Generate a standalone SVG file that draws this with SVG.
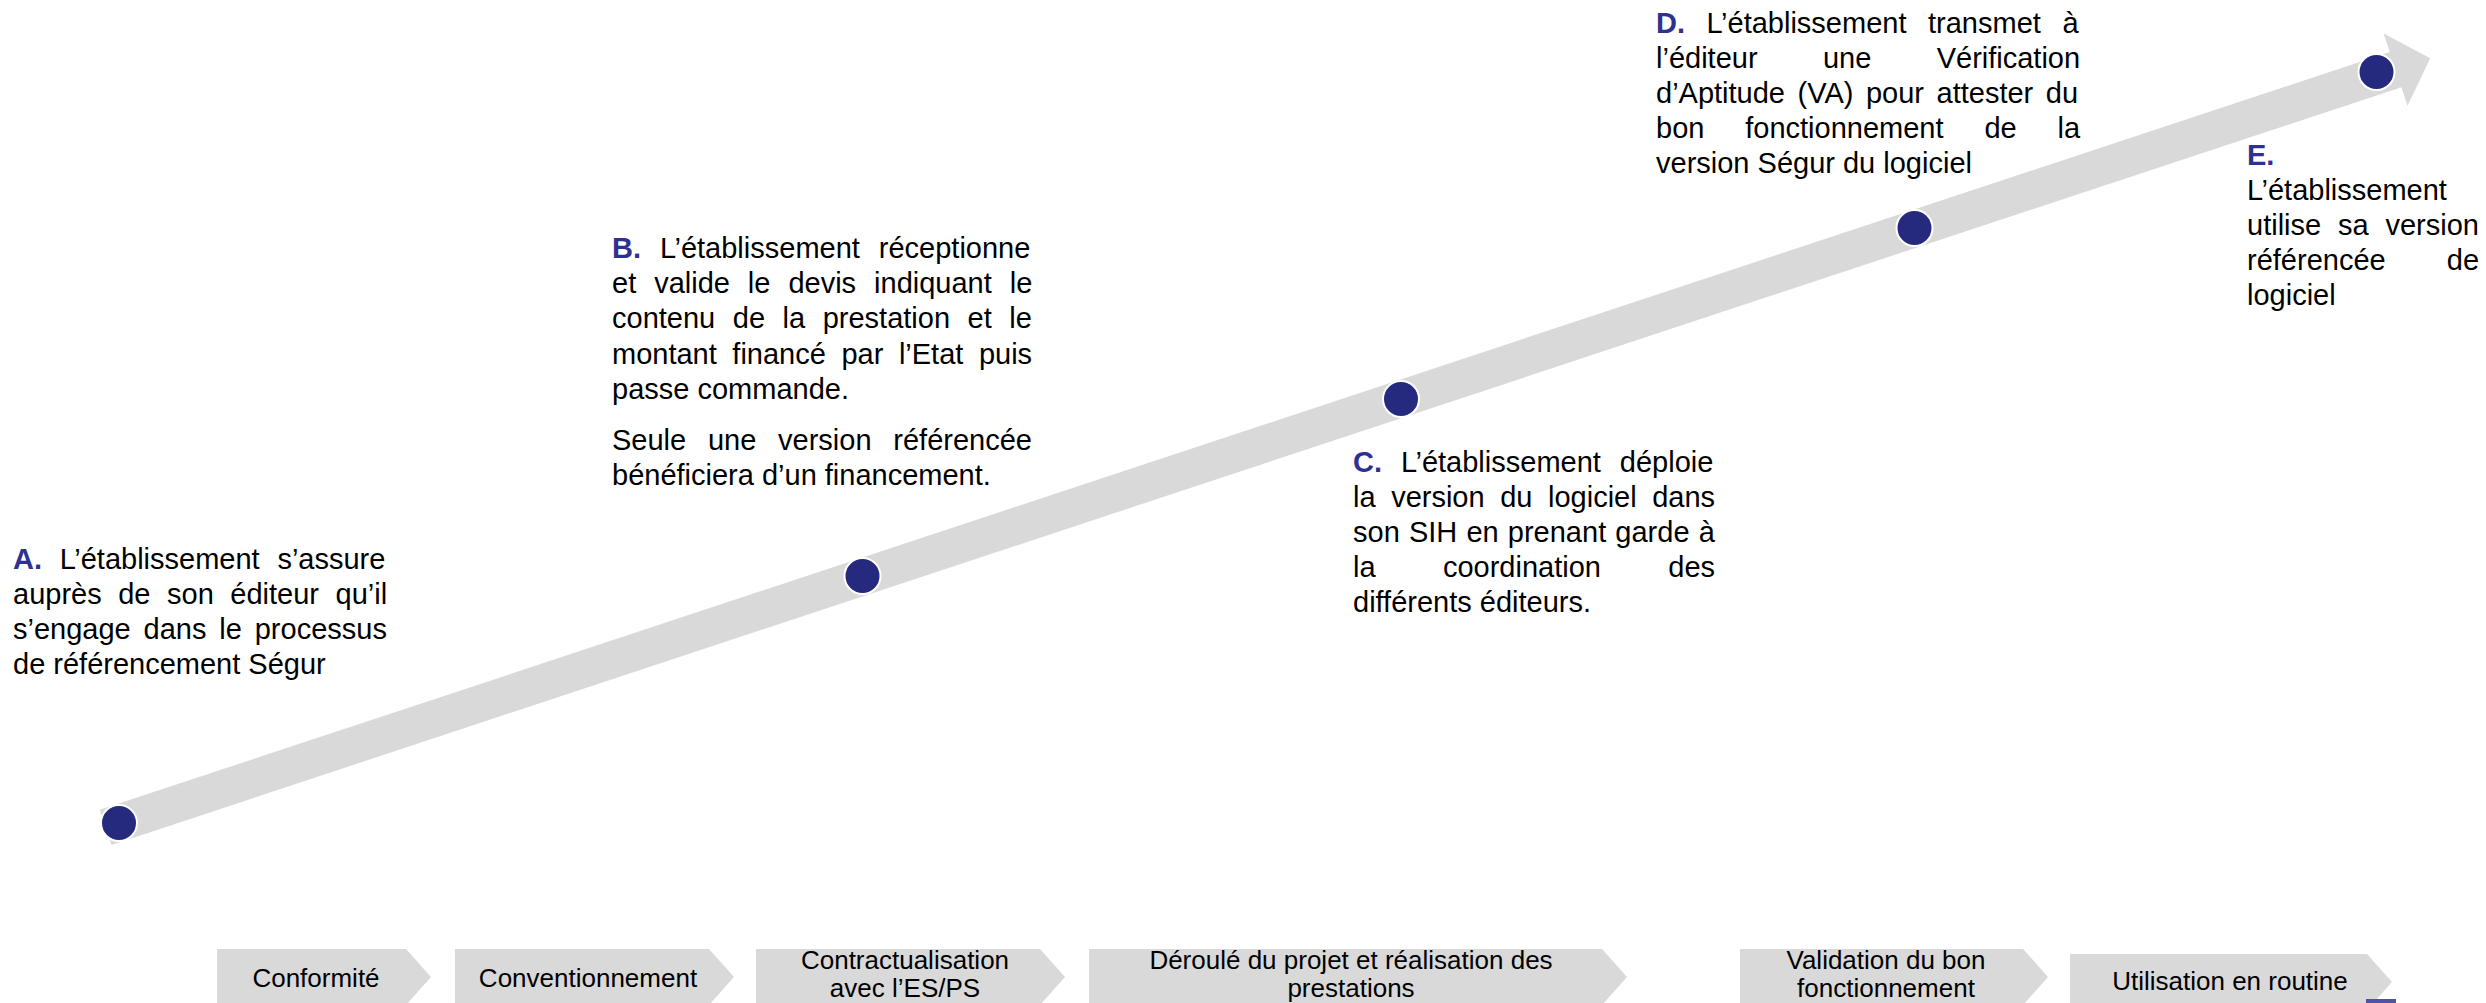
<svg xmlns="http://www.w3.org/2000/svg" width="2486" height="1003" viewBox="0 0 2486 1003">
<style>
text{font-family:"Liberation Sans",Arial,sans-serif;font-size:29px;fill:#000}
.lab{font-weight:bold;fill:#2e3092}
.dot{fill:#262a7e;stroke:#fff;stroke-width:2}
.chev{fill:#d9d9d9}
.ct{font-size:26px;text-anchor:middle}
</style>
<rect width="2486" height="1003" fill="#fff"/>
<g id="connectors">
<polygon fill="#d9d9d9" transform="translate(119,823) rotate(-18.31)" points="-14,-18.5 2398,-18.5 2398,-38 2434.5,0 2398,38 2398,18.5 -14,18.5"/>
</g>
<g id="stepA">
<circle class="dot" cx="119" cy="823" r="18"/>
<text x="13" y="569" style="word-spacing:9.7px"><tspan class="lab">A.</tspan> L’établissement s’assure</text>
<text x="13" y="604" style="word-spacing:8.5px">auprès de son éditeur qu’il</text>
<text x="13" y="639" style="word-spacing:4.8px">s’engage dans le processus</text>
<text x="13" y="674">de référencement Ségur</text>
</g>
<g id="stepB">
<circle class="dot" cx="862.5" cy="576" r="18"/>
<text x="612" y="258" style="word-spacing:10.9px"><tspan class="lab">B.</tspan> L’établissement réceptionne</text>
<text x="612" y="293" style="word-spacing:9.9px">et valide le devis indiquant le</text>
<text x="612" y="328" style="word-spacing:9.5px">contenu de la prestation et le</text>
<text x="612" y="364" style="word-spacing:7.5px">montant financé par l’Etat puis</text>
<text x="612" y="399">passe commande.</text>
<text x="612" y="450" style="word-spacing:13.7px">Seule une version référencée</text>
<text x="612" y="485">bénéficiera d’un financement.</text>
</g>
<g id="stepC">
<circle class="dot" cx="1401" cy="399" r="18"/>
<text x="1353" y="472" style="word-spacing:10.9px"><tspan class="lab">C.</tspan> L’établissement déploie</text>
<text x="1353" y="507" style="word-spacing:7.5px">la version du logiciel dans</text>
<text x="1353" y="542" style="word-spacing:1.1px">son SIH en prenant garde à</text>
<text x="1353" y="577" style="word-spacing:59.3px">la coordination des</text>
<text x="1353" y="612">différents éditeurs.</text>
</g>
<g id="stepD">
<circle class="dot" cx="1914.5" cy="228" r="18"/>
<text x="1656" y="33" style="word-spacing:13.5px"><tspan class="lab">D.</tspan> L’établissement transmet à</text>
<text x="1656" y="68" style="word-spacing:57.3px">l’éditeur une Vérification</text>
<text x="1656" y="103" style="word-spacing:4.5px">d’Aptitude (VA) pour attester du</text>
<text x="1656" y="138" style="word-spacing:32.8px">bon fonctionnement de la</text>
<text x="1656" y="173">version Ségur du logiciel</text>
</g>
<g id="stepE">
<circle class="dot" cx="2376.5" cy="72" r="18"/>
<text x="2247" y="165"><tspan class="lab">E.</tspan></text>
<text x="2247" y="200">L’établissement</text>
<text x="2247" y="235" style="word-spacing:8.8px">utilise sa version</text>
<text x="2247" y="270" style="word-spacing:53.1px">référencée de</text>
<text x="2247" y="305">logiciel</text>
</g>
<g id="phase1">
<polygon class="chev" points="217,949 406,949 431,977 406,1005 217,1005"/>
<text class="ct" x="316" y="987">Conformité</text>
</g>
<g id="phase2">
<polygon class="chev" points="455,949 709,949 734,977 709,1005 455,1005"/>
<text class="ct" x="588" y="987">Conventionnement</text>
</g>
<g id="phase3">
<polygon class="chev" points="756,949 1040,949 1065,977 1040,1005 756,1005"/>
<text class="ct" x="905" y="969">Contractualisation</text>
<text class="ct" x="905" y="997">avec l’ES/PS</text>
</g>
<g id="phase4">
<polygon class="chev" points="1089,949 1602,949 1627,977 1602,1005 1089,1005"/>
<text class="ct" x="1351" y="969">Déroulé du projet et réalisation des</text>
<text class="ct" x="1351" y="997">prestations</text>
</g>
<g id="phase5">
<polygon class="chev" points="1740,949 2023,949 2048,977 2023,1005 1740,1005"/>
<text class="ct" x="1886" y="969">Validation du bon</text>
<text class="ct" x="1886" y="997">fonctionnement</text>
</g>
<g id="phase6">
<polygon class="chev" points="2070,954 2367,954 2392,982 2367,1010 2070,1010"/>
<text class="ct" x="2230" y="990">Utilisation en routine</text>
</g>
<rect x="2366" y="999" width="30" height="4" fill="#4f53a3"/>
</svg>
